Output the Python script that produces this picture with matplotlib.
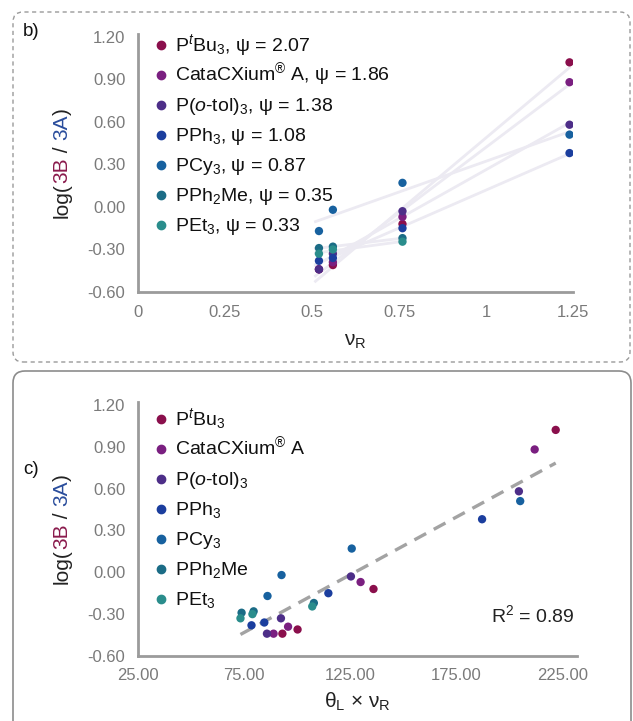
import numpy as np
import matplotlib
matplotlib.use("Agg")
import matplotlib.pyplot as plt
from matplotlib.patches import FancyBboxPatch
from matplotlib.transforms import IdentityTransform

plt.rcParams['font.family'] = ['Liberation Sans', 'DejaVu Sans']
plt.rcParams['mathtext.fontset'] = 'custom'
plt.rcParams['mathtext.rm'] = 'Liberation Sans'
plt.rcParams['mathtext.it'] = 'Liberation Sans:italic'
plt.rcParams['mathtext.sf'] = 'Liberation Sans'

ligands = [r'P$^{\mathit{t}}$Bu$_3$', r'CataCXium$^{\mathrm{®}}$ A', r'P($\mathit{o}$-tol)$_3$',
           r'PPh$_3$', r'PCy$_3$', r'PPh$_2$Me', r'PEt$_3$']
colors = ['#8a0f4c', '#7a1f80', '#4d2e88', '#1b3e9e', '#17619f', '#1b6c86', '#2a8d8c']
psi = ['2.07', '1.86', '1.38', '1.08', '0.87', '0.35', '0.33']
theta_L = [179, 171, 165, 151, 165.5, 142, 141]

# nu_R of the substrates and log(3B/3A) per ligand
nu_R = [
    [0.52, 0.56, 0.76, 1.24],
    [0.52, 0.56, 0.76, 1.24],
    [0.52, 0.56, 0.76, 1.24],
    [0.52, 0.56, 0.76, 1.24],
    [0.52, 0.56, 0.76, 1.24],
    [0.52, 0.56, 0.76],
    [0.52, 0.56, 0.76],
]
log_ratio = [
    [-0.44, -0.41, -0.12, 1.02],
    [-0.44, -0.39, -0.07, 0.88],
    [-0.44, -0.33, -0.03, 0.58],
    [-0.38, -0.36, -0.15, 0.38],
    [-0.17, -0.02, 0.17, 0.51],
    [-0.29, -0.28, -0.22],
    [-0.33, -0.30, -0.245],
]

yticks = [-0.6, -0.3, 0.0, 0.3, 0.6, 0.9, 1.2]
xticks_b = [0, 0.25, 0.5, 0.75, 1, 1.25]
xticks_c = [25, 75, 125, 175, 225]

W, H = 633, 721
fig = plt.figure(figsize=(W / 100, H / 100), dpi=100)
PX = IdentityTransform()


def px_axes(l, t, r, b):
    return fig.add_axes([l / W, 1 - b / H, (r - l) / W, (b - t) / H])


def style_axes(ax):
    for s in ['top', 'right']:
        ax.spines[s].set_visible(False)
    for s in ['left', 'bottom']:
        ax.spines[s].set_color('#9b9b9b')
        ax.spines[s].set_linewidth(2)
    ax.tick_params(length=0, labelsize=12, labelcolor='#7a7a7a')
    ax.tick_params(axis='y', pad=9)
    ax.tick_params(axis='x', pad=9)
    ax.set_ylim(-0.6, 1.22)
    ax.set_yticks(yticks)
    ax.set_yticklabels([f'{v:.2f}' for v in yticks])


def key(labels, top_px):
    # legend rows with even 30 px spacing, like the original figure
    for i, (lab, c) in enumerate(zip(labels, colors)):
        yc = H - (top_px + 30 * i)
        fig.add_artist(plt.Line2D([161], [yc], marker='o', ls='', color=c,
                                  markersize=6, transform=PX))
        fig.text(175, yc - 6, lab, fontsize=14, color='#111111',
                 va='baseline', ha='left', transform=PX)


def colored_ylabel(ax, x_px):
    # log(3B / 3A) with coloured species, stacked bottom-up
    parts = [('log(', '#222222'), ('3B', '#8a1a4c'), (' / ', '#222222'),
             ('3A', '#2a4d9c'), (')', '#222222')]
    fig.canvas.draw()
    r = fig.canvas.get_renderer()
    bb = ax.get_window_extent()
    texts = []
    for s, c in parts:
        t = fig.text(0, 0, s, color=c, fontsize=15, rotation=90,
                     ha='center', va='bottom', transform=PX)
        texts.append(t)
    heights = [t.get_window_extent(r).height for t in texts]
    y = (bb.y0 + bb.y1) / 2 - sum(heights) / 2
    for t, h in zip(texts, heights):
        t.set_position((x_px, y))
        y += h


# ---------------- panel b ----------------
axb = px_axes(138, 34, 573, 292)
style_axes(axb)
axb.set_xlim(0, 1.25)
axb.set_xticks(xticks_b)
axb.set_xticklabels(['0', '0.25', '0.5', '0.75', '1', '1.25'])

for x, y in zip(nu_R, log_ratio):
    k, b0 = np.polyfit(x, y, 1)
    xs = np.array([min(x) - 0.01, max(x)])
    axb.plot(xs, k * xs + b0, color='#eceaf2', lw=2, zorder=1)
for x, y, c in zip(nu_R, log_ratio, colors):
    axb.scatter(x, y, s=36, color=c, edgecolors='none', zorder=3)

key([f'{n}, ψ = {p}' for n, p in zip(ligands, psi)], 45)
axb.set_xlabel(r'ν$_\mathrm{R}$', fontsize=15, color='#222222', labelpad=9)

# ---------------- panel c ----------------
axc = px_axes(138, 402, 577, 656)
style_axes(axc)
axc.set_xlim(25, 232)
axc.set_xticks(xticks_c)
axc.set_xticklabels([f'{v:.2f}' for v in xticks_c])

xc_all, yc_all = [], []
for x, y, th, c in zip(nu_R, log_ratio, theta_L, colors):
    xc = np.array(x) * th
    axc.scatter(xc, y, s=36, color=c, edgecolors='none', zorder=3)
    xc_all += list(xc)
    yc_all += list(y)
k, b0 = np.polyfit(xc_all, yc_all, 1)
xs = np.array([min(xc_all), max(xc_all)])
axc.plot(xs, k * xs + b0, color='#a3a3a3', lw=2.4, ls=(0, (4, 2.6)), zorder=2)

key(ligands, 419)
axc.text(0.995, 0.16, r'R$^2$ = 0.89', transform=axc.transAxes, fontsize=14,
         ha='right', va='center', color='#222222')
axc.set_xlabel(r'θ$_\mathrm{L}$ × ν$_\mathrm{R}$', fontsize=15,
               color='#222222', labelpad=5)

colored_ylabel(axb, 62)
colored_ylabel(axc, 62)

# panel frames (pixel coordinates, origin bottom-left)
fig.patches.append(FancyBboxPatch((13, H - 362), 617, 350,
                                  boxstyle='round,pad=0,rounding_size=10',
                                  fill=False, ec='#9a9a9a', lw=1, ls=(0, (3, 2.5)),
                                  transform=PX, figure=fig))
fig.patches.append(FancyBboxPatch((13, -30), 618, H - 371 + 30,
                                  boxstyle='round,pad=0,rounding_size=12',
                                  fill=False, ec='#8c8c8c', lw=1.2,
                                  transform=PX, figure=fig))
fig.text(23, H - 32, 'b)', fontsize=13.5, color='#111111', transform=PX, va='center')
fig.text(23, H - 470, 'c)', fontsize=13.5, color='#111111', transform=PX, va='center')

fig.savefig('out.png', dpi=100)
